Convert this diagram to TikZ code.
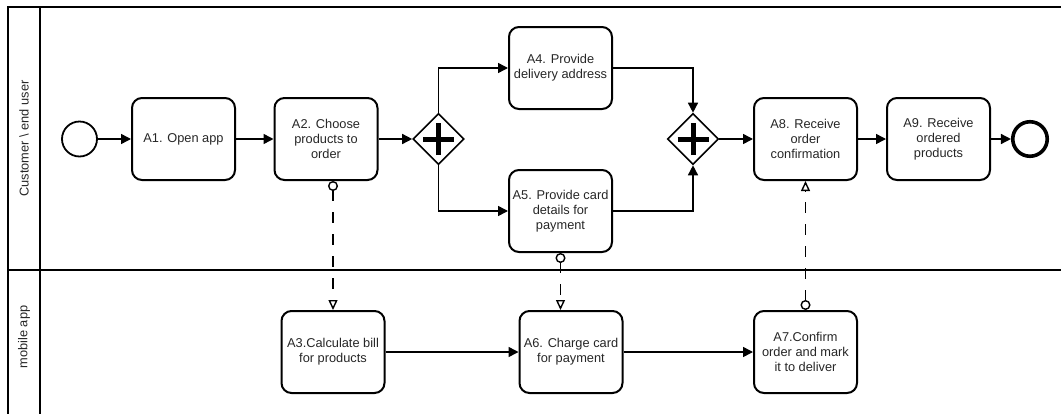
\documentclass[tikz,border=0pt]{standalone}
\usepackage{fontspec}
\setmainfont{Liberation Sans}
\usetikzlibrary{arrows.meta,shapes.geometric}
\begin{document}
\begin{tikzpicture}[x=1pt,y=-1pt,
  txt/.style={font=\fontsize{12.8}{14.7}\selectfont, text=black!85},
  task/.style={txt, draw, line width=2pt, rounded corners=10pt, minimum width=103pt, minimum height=82pt, align=center, inner sep=0pt},
  gate/.style={draw, diamond, line width=1.6pt, minimum width=51pt, minimum height=51pt, inner sep=0pt,
    path picture={\draw[line width=5pt] ([xshift=-15.5pt]path picture bounding box.center) -- ([xshift=15.5pt]path picture bounding box.center);
                  \draw[line width=5pt] ([yshift=-16pt]path picture bounding box.center) -- ([yshift=16pt]path picture bounding box.center);}},
  flow/.style={line width=1.5pt, -{Triangle[length=10pt,width=10pt]}},
  msg/.style={line width=1.4pt, dash pattern=on 11pt off 11pt, {Circle[length=10pt,fill=white]}-{Triangle[length=10pt,width=9pt,fill=white]}},
  lane/.style={line width=2pt},
  lanelabel/.style={txt, rotate=90}
]
\useasboundingbox (0,0) rectangle (1061,413);
\clip (0,0) rectangle (1061,413);
% pool and lanes
\draw[lane] (8,430) -- (8,7) -- (1075,7);
\draw[lane] (40,7) -- (40,430);
\draw[lane] (8,270) -- (1075,270);
\node[lanelabel] (L1) at (24,138.5) {Customer \textbackslash{} end user};
\node[lanelabel] (L2) at (24,337) {mobile app};
% events
\node[draw, circle, line width=1.8pt, minimum size=35pt, inner sep=0pt] (S) at (79.5,139) {};
\node[draw, circle, line width=3.6pt, minimum size=34.5pt, inner sep=0pt] (E) at (1030,139) {};
% tasks lane 1
\node[task] (A1) at (183.5,139) {A1. Open app};
\node[task] (A2) at (326,139) {A2. Choose\\products to\\order};
\node[gate] (G1) at (438.5,139) {};
\node[task] (A4) at (560.5,68) {A4. Provide\\delivery address};
\node[task] (A5) at (560.5,211) {A5. Provide card\\details for\\payment};
\node[gate] (G2) at (693,139) {};
\node[task] (A8) at (805.5,139) {A8. Receive\\order\\confirmation};
\node[task] (A9) at (938.5,139) {A9. Receive\\ordered\\products};
% tasks lane 2
\node[task] (A3) at (333,352) {A3.Calculate bill\\for products};
\node[task] (A6) at (571,352) {A6. Charge card\\for payment};
\node[task] (A7) at (805.5,352) {A7.Confirm\\order and mark\\it to deliver};
% sequence flows
\draw[flow] (S) -- (A1);
\draw[flow] (A1) -- (A2);
\draw[flow] (A2) -- (G1);
\draw[flow] (G1.north) |- (A4.west);
\draw[flow] (G1.south) |- (A5.west);
\draw[flow] (A4.east) -| (G2.north);
\draw[flow] (A5.east) -| (G2.south);
\draw[flow] (G2) -- (A8);
\draw[flow] (A8) -- (A9);
\draw[flow] (A9) -- (E);
\draw[flow] (A3) -- (A6);
\draw[flow] (A6) -- (A7);
% message flows
\draw[msg] (A2.south -| A3.north) -- (A3.north);
\draw[msg] (A5.south) -- (A6.north -| A5.south);
\draw[msg] (A7.north) -- (A8.south);
\end{tikzpicture}
\end{document}
